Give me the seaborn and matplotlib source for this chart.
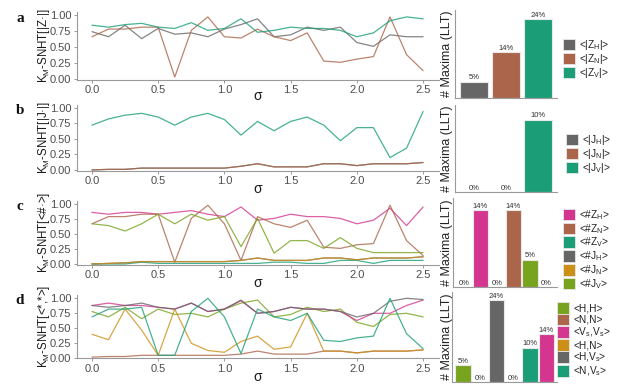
import numpy as np
import pandas as pd
import matplotlib
matplotlib.use("Agg")
import matplotlib.pyplot as plt
import seaborn as sns
from matplotlib.patches import Patch

# ---------------- data ----------------
sigma = [0.0, 0.125, 0.25, 0.375, 0.5, 0.625, 0.75, 0.875, 1.0, 1.125, 1.25,
         1.375, 1.5, 1.625, 1.75, 1.875, 2.0, 2.125, 2.25, 2.375, 2.5]

# panel a : K_M-SNHT[|Z.|]
a_ZH = [0.74, 0.66, 0.84, 0.63, 0.79, 0.70, 0.72, 0.66, 0.78, 0.85, 0.94, 0.66, 0.69, 0.81, 0.76, 0.81, 0.57, 0.51, 0.69, 0.66, 0.66]
a_ZN = [0.66, 0.78, 0.78, 0.81, 0.81, 0.03, 0.76, 0.97, 0.66, 0.64, 0.78, 0.66, 0.60, 0.72, 0.28, 0.26, 0.31, 0.35, 0.97, 0.38, 0.13]
a_ZV = [0.84, 0.81, 0.85, 0.87, 0.81, 0.79, 0.88, 0.76, 0.79, 0.94, 0.73, 0.76, 0.81, 0.79, 0.79, 0.76, 0.66, 0.72, 0.91, 0.97, 0.94]

# panel b : K_M-SNHT[|J.|]
b_JH = [0.00, 0.01, 0.01, 0.03, 0.03, 0.03, 0.03, 0.03, 0.03, 0.06, 0.10, 0.05, 0.05, 0.05, 0.10, 0.10, 0.07, 0.10, 0.10, 0.10, 0.12]
b_JN = [0.00, 0.01, 0.01, 0.03, 0.03, 0.03, 0.03, 0.03, 0.03, 0.06, 0.10, 0.05, 0.05, 0.05, 0.10, 0.10, 0.07, 0.10, 0.10, 0.10, 0.12]
b_JV = [0.72, 0.82, 0.88, 0.91, 0.85, 0.72, 0.85, 0.91, 0.81, 0.56, 0.78, 0.63, 0.78, 0.85, 0.72, 0.47, 0.68, 0.68, 0.20, 0.35, 0.94]

# panel c : K_M-SNHT[<#.>]
c_ZH = [0.86, 0.83, 0.86, 0.86, 0.83, 0.86, 0.89, 0.83, 0.79, 0.95, 0.73, 0.76, 0.83, 0.79, 0.79, 0.76, 0.67, 0.73, 0.93, 0.64, 0.95]
c_ZN = [0.67, 0.79, 0.79, 0.83, 0.83, 0.03, 0.76, 0.98, 0.67, 0.06, 0.79, 0.67, 0.61, 0.73, 0.28, 0.26, 0.32, 0.34, 0.98, 0.39, 0.14]
c_ZV = [0.00, 0.00, 0.00, 0.03, 0.01, 0.01, 0.01, 0.01, 0.01, 0.01, 0.01, 0.03, 0.03, 0.01, 0.01, 0.06, 0.06, 0.01, 0.06, 0.06, 0.06]
c_JH = [0.00, 0.01, 0.02, 0.04, 0.04, 0.04, 0.04, 0.04, 0.04, 0.06, 0.10, 0.06, 0.06, 0.06, 0.10, 0.10, 0.07, 0.10, 0.10, 0.10, 0.12]
c_JN = [0.00, 0.01, 0.02, 0.04, 0.04, 0.04, 0.04, 0.04, 0.04, 0.06, 0.10, 0.06, 0.06, 0.06, 0.10, 0.10, 0.07, 0.10, 0.10, 0.10, 0.12]
c_JV = [0.67, 0.64, 0.55, 0.67, 0.83, 0.67, 0.83, 0.73, 0.79, 0.29, 0.76, 0.18, 0.39, 0.39, 0.26, 0.44, 0.26, 0.19, 0.19, 0.19, 0.19]

# panel d : K_M-SNHT[<*,*>]
d_HH = [0.77, 0.68, 0.84, 0.65, 0.81, 0.72, 0.74, 0.68, 0.81, 0.91, 0.96, 0.68, 0.72, 0.84, 0.77, 0.81, 0.59, 0.52, 0.72, 0.74, 0.68]
d_NN = [0.01, 0.02, 0.02, 0.04, 0.04, 0.04, 0.04, 0.04, 0.04, 0.06, 0.11, 0.06, 0.06, 0.06, 0.11, 0.11, 0.08, 0.11, 0.11, 0.11, 0.13]
d_VsVs = [0.87, 0.91, 0.87, 0.87, 0.84, 0.81, 0.91, 0.77, 0.81, 0.95, 0.74, 0.77, 0.84, 0.81, 0.81, 0.77, 0.62, 0.74, 0.74, 0.87, 0.96]
d_HN = [0.39, 0.30, 0.81, 0.46, 0.04, 0.81, 0.24, 0.12, 0.09, 0.27, 0.36, 0.14, 0.18, 0.74, 0.11, 0.11, 0.08, 0.11, 0.11, 0.11, 0.13]
d_HVs = [0.87, 0.84, 0.87, 0.91, 0.84, 0.81, 0.91, 0.77, 0.81, 0.96, 0.74, 0.77, 0.84, 0.81, 0.81, 0.77, 0.68, 0.74, 0.94, 0.99, 0.97]
d_NVs = [0.68, 0.81, 0.81, 0.84, 0.04, 0.04, 0.77, 0.99, 0.68, 0.07, 0.81, 0.68, 0.62, 0.74, 0.29, 0.27, 0.33, 0.36, 0.99, 0.40, 0.15]

# bar charts: # Maxima (LLT), percent
a_bar_cats = ["ZH", "ZN", "ZV"]
a_bar_vals = [5, 14, 24]
b_bar_cats = ["JH", "JN", "JV"]
b_bar_vals = [0, 0, 10]
c_bar_cats = ["ZV", "ZH", "JH", "ZN", "JV", "JN"]
c_bar_vals = [0, 14, 0, 14, 5, 0]
d_bar_cats = ["HH", "NN", "HVs", "HN", "NVs", "VsVs"]
d_bar_vals = [5, 0, 24, 0, 10, 14]

# legend labels
a_leg = ["<|$\\mathregular{Z_H}$|>", "<|$\\mathregular{Z_N}$|>", "<|$\\mathregular{Z_V}$|>"]
b_leg = ["<|$\\mathregular{J_H}$|>", "<|$\\mathregular{J_N}$|>", "<|$\\mathregular{J_V}$|>"]
c_leg = ["<#$\\mathregular{Z_H}$>", "<#$\\mathregular{Z_N}$>", "<#$\\mathregular{Z_V}$>",
         "<#$\\mathregular{J_H}$>", "<#$\\mathregular{J_N}$>", "<#$\\mathregular{J_V}$>"]
d_leg = ["<H,H>", "<N,N>", "<$\\mathregular{V_s}$,$\\mathregular{V_s}$>", "<H,N>",
         "<H,$\\mathregular{V_s}$>", "<N,$\\mathregular{V_s}$>"]

ylabels = ["$\\mathregular{K_M}$-SNHT[|Z·|]", "$\\mathregular{K_M}$-SNHT[|J·|]",
           "$\\mathregular{K_M}$-SNHT[<#·>]", "$\\mathregular{K_M}$-SNHT[<*,*>]"]
panel_letters = ["a", "b", "c", "d"]
xticks = [0.0, 0.5, 1.0, 1.5, 2.0, 2.5]
yticks = [0.0, 0.25, 0.5, 0.75, 1.0]

# ---------------- style ----------------
GRAY, BROWN, TEAL = "#666666", "#AA654A", "#1B9E77"
PINK, ORANGE, GREEN = "#D4368F", "#CC9019", "#78A31F"

sns.set_theme(style="white")
plt.rcParams["font.family"] = ["Liberation Sans", "DejaVu Sans"]
plt.rcParams["mathtext.fontset"] = "custom"
plt.rcParams["mathtext.rm"] = "Liberation Sans"
plt.rcParams["mathtext.it"] = "Liberation Sans:italic"
plt.rcParams["mathtext.bf"] = "Liberation Sans:bold"

W, H = 626, 390
fig = plt.figure(figsize=(W / 100, H / 100), dpi=100)
fig.patch.set_facecolor("white")


def add_ax(l, t, r, b):
    return fig.add_axes([l / W, 1 - b / H, (r - l) / W, (b - t) / H])


SPINE = "#9a9a9a"

panels = [
    dict(names=["ZH", "ZN", "ZV"], series=[a_ZH, a_ZN, a_ZV], colors=[GRAY, BROWN, TEAL],
         line_box=(77, 11.8, 439, 79.6), bar_box=(455, 10, 557, 98),
         bar_cats=a_bar_cats, bar_vals=a_bar_vals, bar_top=1.12, bar_xlim=(-0.6, 2.6),
         bar_width=0.9, leg=a_leg, leg_pos=(563, 38), letter_y=18, xlab_y=96),
    dict(names=["JH", "JN", "JV"], series=[b_JH, b_JN, b_JV], colors=[GRAY, BROWN, TEAL],
         line_box=(77, 104.6, 439, 170.6), bar_box=(455, 105, 557, 192),
         bar_cats=b_bar_cats, bar_vals=b_bar_vals, bar_top=1.2, bar_xlim=(-0.6, 2.6),
         bar_width=0.9, leg=b_leg, leg_pos=(566, 133), letter_y=111, xlab_y=189),
    dict(names=["ZH", "ZN", "ZV", "JH", "JN", "JV"], series=[c_ZH, c_ZN, c_ZV, c_JH, c_JN, c_JV],
         colors=[PINK, BROWN, TEAL, GRAY, ORANGE, GREEN],
         line_box=(77, 201, 439, 264.6), bar_box=(453, 198, 557, 287),
         bar_cats=c_bar_cats, bar_vals=c_bar_vals, bar_top=1.16, bar_xlim=(-0.67, 5.63),
         bar_width=0.95, leg=c_leg, leg_pos=(563, 208), letter_y=206, xlab_y=283),
    dict(names=["HH", "NN", "VsVs", "HN", "HVs", "NVs"],
         series=[d_HH, d_NN, d_VsVs, d_HN, d_HVs, d_NVs],
         colors=[GREEN, BROWN, PINK, ORANGE, GRAY, TEAL],
         line_box=(77, 294.7, 439, 358.3), bar_box=(452, 292, 557, 382),
         bar_cats=d_bar_cats, bar_vals=d_bar_vals, bar_top=1.10, bar_xlim=(-0.67, 5.63),
         bar_width=0.95, leg=d_leg, leg_pos=(557, 302), letter_y=300, xlab_y=377),
]

for i, p in enumerate(panels):
    # ---- line chart ----
    ax = add_ax(*p["line_box"])
    names = p["names"]
    df = pd.DataFrame({
        "sigma": np.tile(sigma, len(names)),
        "value": np.concatenate([np.asarray(s, float) for s in p["series"]]),
        "series": np.repeat(names, len(sigma)),
    })
    sns.lineplot(data=df, x="sigma", y="value", hue="series", hue_order=names,
                 palette=dict(zip(names, p["colors"])), ax=ax, legend=False,
                 linewidth=0.9, alpha=0.8)
    ax.set_xlim(-0.113, 2.62)
    ax.set_ylim(-0.01, 1.05)
    ax.set_xticks(xticks)
    ax.set_xticklabels([f"{v:.1f}" for v in xticks])
    ax.set_yticks(yticks)
    ax.set_yticklabels([f"{v:.2f}" for v in yticks])
    ax.set_xlabel("")
    ax.set_ylabel("")
    for s in ["top", "right"]:
        ax.spines[s].set_visible(False)
    for s in ["left", "bottom"]:
        ax.spines[s].set_color(SPINE)
        ax.spines[s].set_linewidth(0.8)
    ax.tick_params(axis="both", bottom=True, left=True, length=2.5, width=0.7,
                   color=SPINE, labelsize=8, labelcolor="#4d4d4d", pad=1.5)
    l, t, r, b = p["line_box"]
    fig.text(44 / W, 1 - ((t + b) / 2) / H, ylabels[i], rotation=90, ha="center",
             va="center", fontsize=8.3, color="#1a1a1a")
    fig.text(258 / W, 1 - p["xlab_y"] / H, "σ", ha="center", va="center",
             fontsize=10, color="#1a1a1a")
    fig.text(20 / W, 1 - p["letter_y"] / H, panel_letters[i], ha="center", va="center",
             fontsize=11, fontweight="bold", family="Liberation Serif", color="#111111")

    # ---- bar chart ----
    bx = add_ax(*p["bar_box"])
    cmap = dict(zip(names, p["colors"]))
    bdf = pd.DataFrame({"cat": p["bar_cats"], "pct": p["bar_vals"]})
    sns.barplot(data=bdf, x="cat", y="pct", hue="cat", order=p["bar_cats"],
                hue_order=p["bar_cats"], palette={c: cmap[c] for c in p["bar_cats"]},
                dodge=False, width=p["bar_width"], ax=bx, legend=False,
                edgecolor="#e8e8e8", linewidth=0.8, saturation=1)
    for cont in bx.containers:
        bx.bar_label(cont, fmt="%g%%", fontsize=5.5, padding=0.3, color="#333333")
    bx.set_xlim(*p["bar_xlim"])
    bx.set_ylim(0, max(p["bar_vals"]) * p["bar_top"])
    bx.set_xticks([])
    bx.set_yticks([])
    bx.set_xlabel("")
    bx.set_ylabel("")
    for s in ["top", "right"]:
        bx.spines[s].set_visible(False)
    for s in ["left", "bottom"]:
        bx.spines[s].set_color(SPINE)
        bx.spines[s].set_linewidth(0.8)
    bl, bt, br, bb = p["bar_box"]
    fig.text(447 / W, 1 - ((bt + bb) / 2) / H, "# Maxima (LLT)", rotation=90,
             ha="center", va="center", fontsize=9, color="#222222")

    handles = [Patch(facecolor=c, edgecolor="#e8e8e8", linewidth=0.6) for c in p["colors"]]
    lx, ly = p["leg_pos"]
    fig.legend(handles, p["leg"], loc="upper left", bbox_to_anchor=(lx / W, 1 - ly / H),
               frameon=False, fontsize=7.3, handlelength=1.2, handleheight=1.4,
               handletextpad=0.4, labelspacing=0.0, borderpad=0, borderaxespad=0,
               labelcolor="#222222")

fig.savefig("out.png", dpi=100, facecolor="white")
